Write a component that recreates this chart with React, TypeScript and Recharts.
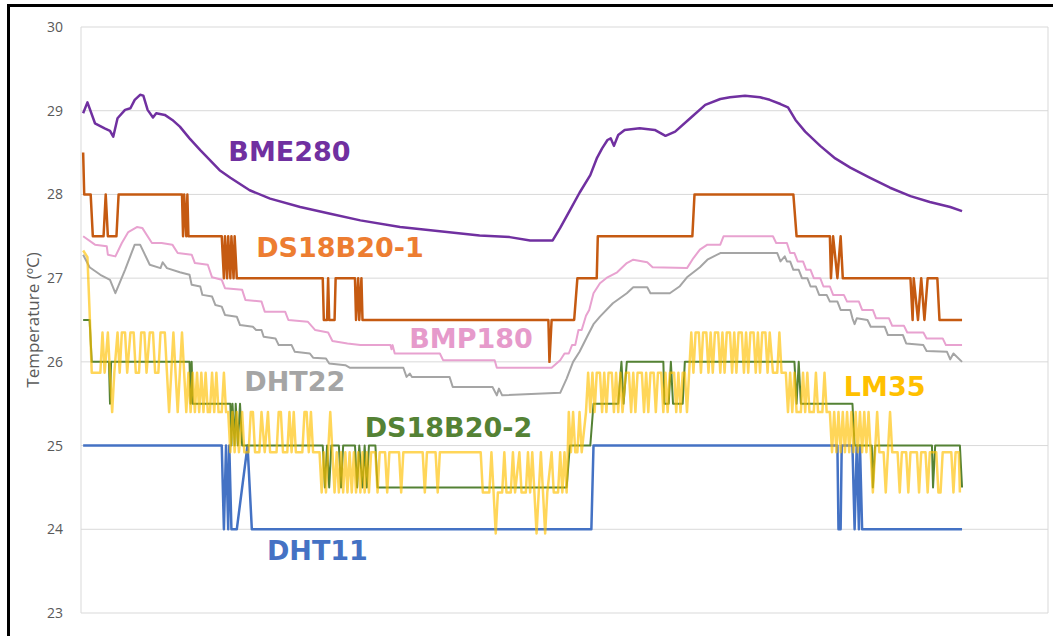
import React from "react";
import { LineChart, Line, XAxis, YAxis, CartesianGrid, ReferenceDot } from "recharts";

type P = [number, number];

const yTicks = [23, 24, 25, 26, 27, 28, 29, 30];
const xTicks = [0, 100, 200, 300, 400, 500, 600, 700, 800, 900];

const bme280: P[] = [
  [2, 28.97], [6, 29.1], [13, 28.85], [22, 28.79], [27, 28.76], [30, 28.69], [34, 28.91], [41, 29.01], [46, 29.03],
  [50, 29.13], [55, 29.19], [58, 29.18], [62, 29.01], [67, 28.92], [70, 28.97], [78, 28.95], [85, 28.89], [92, 28.81],
  [101, 28.67], [111, 28.53], [120, 28.41], [129, 28.29], [139, 28.2], [157, 28.05], [176, 27.95], [204, 27.85],
  [232, 27.77], [260, 27.69], [297, 27.61], [334, 27.56], [371, 27.51], [399, 27.49], [418, 27.45], [439, 27.45],
  [446, 27.6], [455, 27.81], [464, 28.02], [474, 28.23], [480, 28.43], [485, 28.55], [490, 28.65], [493, 28.67],
  [496, 28.58], [500, 28.71], [506, 28.77], [520, 28.79], [534, 28.77], [544, 28.7], [553, 28.75], [567, 28.91],
  [581, 29.07], [595, 29.14], [604, 29.16], [618, 29.18], [632, 29.16], [641, 29.13], [651, 29.08], [658, 29.04],
  [665, 28.89], [674, 28.75], [688, 28.58], [702, 28.43], [716, 28.32], [734, 28.2], [753, 28.08], [772, 27.98],
  [790, 27.91], [809, 27.85], [820, 27.8],
];

const ds18b20_1: P[] = [
  [2, 28.5], [3, 28], [9, 28], [11, 27.5], [21, 27.5], [23, 28], [25, 27.5], [33, 27.5], [35, 28], [94, 28], [95, 27.5],
  [96, 28], [98, 27.5], [99, 28], [100, 27.5], [131, 27.5], [133, 27], [134, 27.5], [136, 27], [137, 27.5], [139, 27],
  [140, 27.5], [142, 27], [143, 27.5], [145, 27], [225, 27], [226, 26.5], [229, 26.5], [230, 27], [231, 26.5],
  [236, 26.5], [237, 27], [255, 27], [256, 26.5], [258, 27], [259, 26.5], [261, 27], [262, 26.5], [435, 26.5],
  [436, 26], [438, 26.5], [459, 26.5], [462, 27], [480, 27], [481, 27.5], [569, 27.5], [571, 28], [663, 28],
  [666, 27.5], [697, 27.5], [698, 27], [700, 27.5], [704, 27], [707, 27.5], [709, 27], [772, 27], [774, 26.5],
  [775, 27], [779, 26.5], [782, 27], [785, 26.5], [788, 27], [797, 27], [799, 26.5], [820, 26.5],
];

const bmp180: P[] = [
  [2, 27.5], [13, 27.4], [24, 27.38], [25, 27.28], [32, 27.26], [38, 27.42], [44, 27.55], [52, 27.61], [57, 27.6],
  [66, 27.42], [75, 27.42], [85, 27.4], [90, 27.3], [103, 27.28], [106, 27.18], [118, 27.16], [122, 27.01],
  [131, 26.98], [134, 26.88], [150, 26.86], [153, 26.74], [168, 26.72], [171, 26.6], [190, 26.6], [193, 26.5],
  [211, 26.48], [218, 26.38], [230, 26.35], [234, 26.25], [248, 26.22], [260, 26.2], [288, 26.2], [289, 26.15],
  [290, 26.2], [292, 26.1], [334, 26.1], [337, 26.02], [385, 26.02], [387, 25.93], [438, 25.93], [446, 26.02],
  [450, 26.1], [454, 26.1], [457, 26.2], [460, 26.2], [463, 26.38], [466, 26.38], [470, 26.55], [473, 26.62],
  [477, 26.82], [483, 26.94], [490, 27.01], [499, 27.07], [508, 27.18],
  [514, 27.22], [527, 27.19], [532, 27.13], [564, 27.12], [570, 27.24], [576, 27.34], [583, 27.4], [595, 27.4],
  [598, 27.5], [644, 27.5], [647, 27.42], [657, 27.42], [660, 27.3], [664, 27.3], [667, 27.2], [672, 27.2],
  [675, 27.1], [679, 27.1], [682, 27.0], [688, 27.0], [691, 26.9], [697, 26.9], [700, 26.8], [710, 26.8],
  [713, 26.72], [724, 26.72], [727, 26.62], [737, 26.62], [740, 26.52], [752, 26.52], [755, 26.43], [766, 26.43],
  [769, 26.35], [784, 26.35], [787, 26.28], [802, 26.28], [805, 26.2], [820, 26.2],
];

const dht22: P[] = [
  [2, 27.28], [8, 27.13], [18, 27.04], [27, 26.98], [32, 26.82], [41, 27.1], [50, 27.4], [55, 27.4], [64, 27.16],
  [74, 27.12], [76, 27.19], [80, 27.12], [92, 27.07], [101, 27.04], [103, 26.92], [111, 26.9], [113, 26.8],
  [122, 26.78], [125, 26.68], [131, 26.66], [134, 26.56], [145, 26.54], [148, 26.44], [160, 26.42], [163, 26.38],
  [168, 26.38], [170, 26.3], [181, 26.28], [184, 26.2], [196, 26.2], [199, 26.12], [213, 26.1], [216, 26.05],
  [228, 26.04], [231, 25.98], [246, 25.96], [250, 25.93], [300, 25.93], [303, 25.82], [306, 25.86], [308, 25.82],
  [343, 25.82], [346, 25.7], [383, 25.7], [387, 25.6], [389, 25.68], [392, 25.6], [446, 25.63], [452, 25.8],
  [458, 26.0], [464, 26.12], [471, 26.3], [477, 26.45], [483, 26.54], [495, 26.7], [508, 26.82], [514, 26.89],
  [527, 26.89], [530, 26.82], [548, 26.82], [557, 26.9], [564, 27.01], [576, 27.13], [583, 27.22], [595, 27.3],
  [648, 27.3], [651, 27.2], [655, 27.26], [657, 27.2], [660, 27.2], [663, 27.1], [668, 27.1], [671, 27.0],
  [676, 27.0], [679, 26.9], [684, 26.9], [687, 26.8], [694, 26.8], [697, 26.72], [704, 26.72], [707, 26.62],
  [716, 26.62], [718, 26.52], [720, 26.45], [722, 26.52], [732, 26.5], [735, 26.42], [748, 26.42], [751, 26.32],
  [765, 26.32], [768, 26.22], [784, 26.2], [787, 26.13], [806, 26.12], [809, 26.03], [812, 26.1], [820, 26.0],
];

const ds18b20_2: P[] = [
  [2, 26.5], [8, 26.5], [10, 26], [26, 26], [27, 25.5], [28, 26], [101, 26], [102, 25.5], [103, 26], [104, 25.5],
  [139, 25.5], [140, 25], [141, 25.5], [143, 25], [144, 25.5], [146, 25], [148, 25.5], [150, 25], [225, 25],
  [227, 24.5], [229, 25], [231, 24.5], [233, 25], [240, 25], [242, 24.5], [244, 25], [255, 25], [257, 24.5],
  [259, 25], [262, 24.5], [264, 25], [266, 24.5], [268, 25], [274, 25], [276, 24.5], [452, 24.5], [455, 25],
  [474, 25], [477, 25.5], [500, 25.5], [503, 26], [505, 25.5], [508, 26], [542, 26], [543, 25.5], [547, 25.5],
  [549, 26], [551, 25.5], [560, 25.5], [562, 26], [664, 26], [666, 25.5], [668, 26], [670, 25.5], [718, 25.5],
  [720, 25], [736, 25], [737, 24.5], [739, 25], [792, 25], [793, 24.5], [795, 25], [818, 25], [820, 24.5],
];

const lm35: P[] = [
  [2, 27.33], [6, 27.25], [8, 26.6], [10, 25.87], [18, 25.87], [20, 26.35], [22, 25.87], [25, 26.35], [27, 25.87],
  [29, 25.4], [31, 25.87], [34, 26.35], [36, 25.87], [38, 26.35], [41, 26.35], [43, 25.87], [46, 26.35], [49, 26.35],
  [51, 25.87], [54, 25.87], [56, 26.35], [59, 26.35], [61, 25.87], [64, 26.35], [67, 26.35], [69, 25.87], [72, 25.87],
  [74, 26.35], [78, 26.35], [80, 25.87], [82, 25.4], [84, 25.87], [86, 26.35], [88, 25.87], [90, 25.4], [92, 25.87],
  [94, 26.35], [96, 25.87], [98, 25.4], [100, 25.87], [102, 25.4], [104, 25.87], [106, 25.4], [108, 25.87],
  [110, 25.4], [112, 25.87], [114, 25.4], [116, 25.87], [118, 25.4], [120, 25.4], [122, 25.87], [124, 25.4],
  [126, 25.87], [128, 25.4], [131, 25.4], [133, 25.87], [135, 25.4], [137, 25.4], [139, 24.92], [141, 25.4],
  [143, 24.92], [145, 25.4], [147, 24.92], [150, 25.4], [152, 24.92], [156, 24.92], [158, 25.4], [160, 25.4],
  [162, 24.92], [166, 24.92], [168, 25.4], [171, 24.92], [174, 25.4], [176, 24.92], [182, 24.92], [184, 25.4],
  [186, 25.4], [188, 24.92], [192, 24.92], [194, 25.4], [196, 24.92], [198, 25.4], [200, 24.92], [206, 24.92],
  [208, 25.4], [210, 25.4], [212, 24.92], [214, 25.4], [216, 24.92], [222, 24.92], [224, 24.44], [226, 24.92],
  [228, 24.44], [230, 24.92], [232, 25.4], [234, 24.92], [236, 24.44], [238, 24.92], [240, 24.44], [242, 24.92],
  [244, 24.44], [246, 24.92], [248, 24.44], [250, 24.92], [252, 24.44], [254, 24.92], [256, 24.44], [258, 24.92],
  [260, 24.44], [262, 24.92], [264, 24.44], [266, 24.92], [268, 24.44], [270, 24.92], [274, 24.92], [276, 24.44],
  [278, 24.92], [283, 24.92], [285, 24.44], [287, 24.92], [296, 24.92], [298, 24.44], [300, 24.92], [318, 24.92],
  [320, 24.44], [322, 24.92], [330, 24.92], [332, 24.44], [334, 24.92], [372, 24.92], [374, 24.44], [380, 24.44],
  [382, 24.92], [384, 24.44], [386, 23.95], [388, 24.44], [392, 24.44], [394, 24.92], [396, 24.44], [400, 24.44],
  [402, 24.92], [404, 24.44], [408, 24.92], [410, 24.44], [414, 24.44], [416, 24.92], [418, 24.44], [420, 24.92],
  [422, 24.44], [424, 23.95], [426, 24.44], [428, 24.92], [430, 24.44], [432, 23.95], [434, 24.44], [438, 24.92],
  [440, 24.44], [444, 24.44], [446, 24.92], [448, 24.44], [450, 24.92], [452, 24.44], [454, 25.4], [456, 24.92],
  [458, 25.4], [460, 24.92], [462, 24.92], [464, 25.4], [466, 24.92], [470, 25.4], [472, 25.87], [474, 25.4],
  [476, 25.87], [478, 25.4], [480, 25.87], [483, 25.87], [485, 25.4], [487, 25.87], [489, 25.4], [491, 25.87],
  [494, 25.87], [496, 25.4], [498, 25.87], [500, 25.4], [502, 25.87], [504, 25.4], [507, 25.87], [510, 25.87],
  [512, 25.4], [514, 25.87], [516, 25.4], [518, 25.87], [522, 25.87], [524, 25.4], [526, 25.87], [528, 25.4],
  [530, 25.87], [533, 25.87], [535, 25.4], [537, 25.87], [540, 25.87], [542, 25.4], [544, 25.87], [546, 25.4],
  [548, 25.87], [552, 25.87], [554, 25.4], [556, 25.87], [558, 25.4], [560, 25.87], [562, 25.87], [564, 25.4],
  [566, 25.87], [568, 26.35], [570, 25.87], [572, 26.35], [575, 26.35], [577, 25.87], [579, 26.35], [582, 26.35],
  [584, 25.87], [586, 26.35], [588, 25.87], [590, 26.35], [593, 26.35], [595, 25.87], [597, 26.35], [599, 25.87],
  [601, 26.35], [604, 26.35], [606, 25.87], [608, 26.35], [610, 25.87], [612, 26.35], [615, 26.35], [617, 25.87],
  [619, 26.35], [621, 25.87], [623, 26.35], [626, 26.35], [628, 25.87], [630, 26.35], [632, 25.87], [634, 26.35],
  [637, 26.35], [639, 25.87], [641, 26.35], [644, 25.87], [648, 25.87], [650, 26.35], [652, 25.87], [656, 25.87],
  [658, 25.4], [660, 25.87], [662, 25.4], [664, 25.87], [666, 25.4], [670, 25.4], [672, 25.87], [674, 25.4],
  [676, 25.87], [678, 25.4], [682, 25.4], [684, 25.87], [686, 25.4], [690, 25.4], [692, 25.87], [694, 25.4],
  [697, 25.4], [699, 24.92], [701, 25.4], [703, 24.92], [705, 25.4], [707, 24.92], [709, 25.4], [711, 24.92],
  [713, 25.4], [715, 24.92], [717, 25.4], [719, 24.92], [721, 25.4], [723, 24.92], [725, 25.4], [727, 24.92],
  [729, 25.4], [731, 24.92], [733, 25.4], [735, 24.92], [737, 24.44], [739, 24.92], [741, 25.4], [743, 24.92],
  [747, 24.92], [749, 24.44], [751, 24.92], [753, 25.4], [755, 24.92], [760, 24.92], [762, 24.44], [764, 24.92],
  [768, 24.92], [770, 24.44], [772, 24.92], [778, 24.92], [780, 24.44], [782, 24.92], [786, 24.92], [788, 24.44],
  [790, 24.92], [796, 24.92], [798, 24.44], [800, 24.44], [802, 24.92], [810, 24.92], [812, 24.44], [814, 24.92],
  [817, 24.92], [818, 24.44],
];

const dht11: P[] = [
  [2, 25], [131, 25], [133, 24], [135, 25], [137, 24], [138, 25], [140, 24], [145, 24], [155, 25], [159, 24],
  [475, 24], [477, 25], [704, 25], [705, 24], [707, 24], [708, 25], [718, 25], [720, 24], [722, 25], [724, 24],
  [725, 25], [727, 24], [730, 24], [820, 24],
];

const seriesNames = ["BME280", "DS18B20-1", "BMP180", "DHT22", "DHT11", "DS18B20-2", "LM35"];
const seriesData: P[][] = [bme280, ds18b20_1, bmp180, dht22, dht11, ds18b20_2, lm35];
const lineColors = ["#7030A0", "#C55A11", "#E8A2D0", "#A5A5A5", "#4472C4", "#548235", "#FFC000"];
const lineWidths = [2.5, 2.5, 2, 2, 2.5, 2, 2.5];
const lineOpacity = [1, 1, 1, 1, 1, 1, 0.65];

const labelTexts = ["BME280", "DS18B20-1", "BMP180", "DHT22", "DS18B20-2", "LM35", "DHT11"];
const labelT = [194, 241, 363, 199, 342, 748, 220];
const labelV = [28.51, 27.37, 26.28, 25.76, 25.21, 25.7, 23.75];
const labelColors = ["#7030A0", "#ED7D31", "#E69ACB", "#A5A5A5", "#548235", "#FFC000", "#4472C4"];

const toRows = (pts: P[]) => pts.map(([t, v]) => ({ t, v }));

export default function App() {
  return (
    <div style={{ position: "absolute", left: 0, top: 0, width: 1053, height: 636, overflow: "hidden", background: "#fff" }}>
      <div style={{ position: "absolute", left: 7, top: 4, width: 1080, height: 680, border: "3px solid #000", boxSizing: "border-box" }} />
      <div style={{ position: "absolute", left: 0, top: 0 }}>
        <LineChart width={1053} height={636} margin={{ top: 27, right: 5, bottom: 0, left: 0 }}>
          <CartesianGrid stroke="#D9D9D9" strokeWidth={1} />
          <XAxis
            type="number"
            dataKey="t"
            domain={[0, 900]}
            ticks={xTicks}
            tick={false}
            axisLine={false}
            tickLine={false}
            height={23}
            allowDataOverflow
          />
          <YAxis
            type="number"
            domain={[23, 30]}
            ticks={yTicks}
            width={81}
            axisLine={false}
            tickLine={false}
            tickSize={0}
            tickMargin={18}
            tick={{ fill: "#595959", fontSize: 14, fontFamily: "Open Sans, sans-serif" }}
            label={{
              content: (p: any) => {
                const vb = p.viewBox;
                const cx = vb.x + 32;
                const cy = vb.y + vb.height / 2;
                return (
                  <text
                    x={cx}
                    y={cy}
                    transform={`rotate(-90, ${cx}, ${cy})`}
                    textAnchor="middle"
                    dominantBaseline="central"
                    fill="#595959"
                    fontSize={17}
                    fontFamily="Open Sans, sans-serif"
                  >
                    Temperature (ºC)
                  </text>
                );
              },
            }}
          />
          {seriesData.map((pts, i) => (
            <Line
              key={seriesNames[i]}
              name={seriesNames[i]}
              data={toRows(pts)}
              dataKey="v"
              type="linear"
              stroke={lineColors[i]}
              strokeWidth={lineWidths[i]}
              strokeOpacity={lineOpacity[i]}
              strokeLinejoin="round"
              dot={false}
              activeDot={false}
              isAnimationActive={false}
            />
          ))}
          {labelTexts.map((txt, i) => (
            <ReferenceDot
              key={txt}
              x={labelT[i]}
              y={labelV[i]}
              r={0}
              fill="none"
              stroke="none"
              ifOverflow="visible"
              label={{
                content: (p: any) => {
                  const vb = p.viewBox;
                  return (
                    <text
                      x={vb.x + (vb.width || 0) / 2}
                      y={vb.y + (vb.height || 0) / 2}
                      textAnchor="middle"
                      dominantBaseline="central"
                      fill={labelColors[i]}
                      fontSize={27}
                      fontWeight={700}
                      fontFamily="DejaVu Sans, sans-serif"
                    >
                      {txt}
                    </text>
                  );
                },
              }}
            />
          ))}
        </LineChart>
      </div>
    </div>
  );
}
